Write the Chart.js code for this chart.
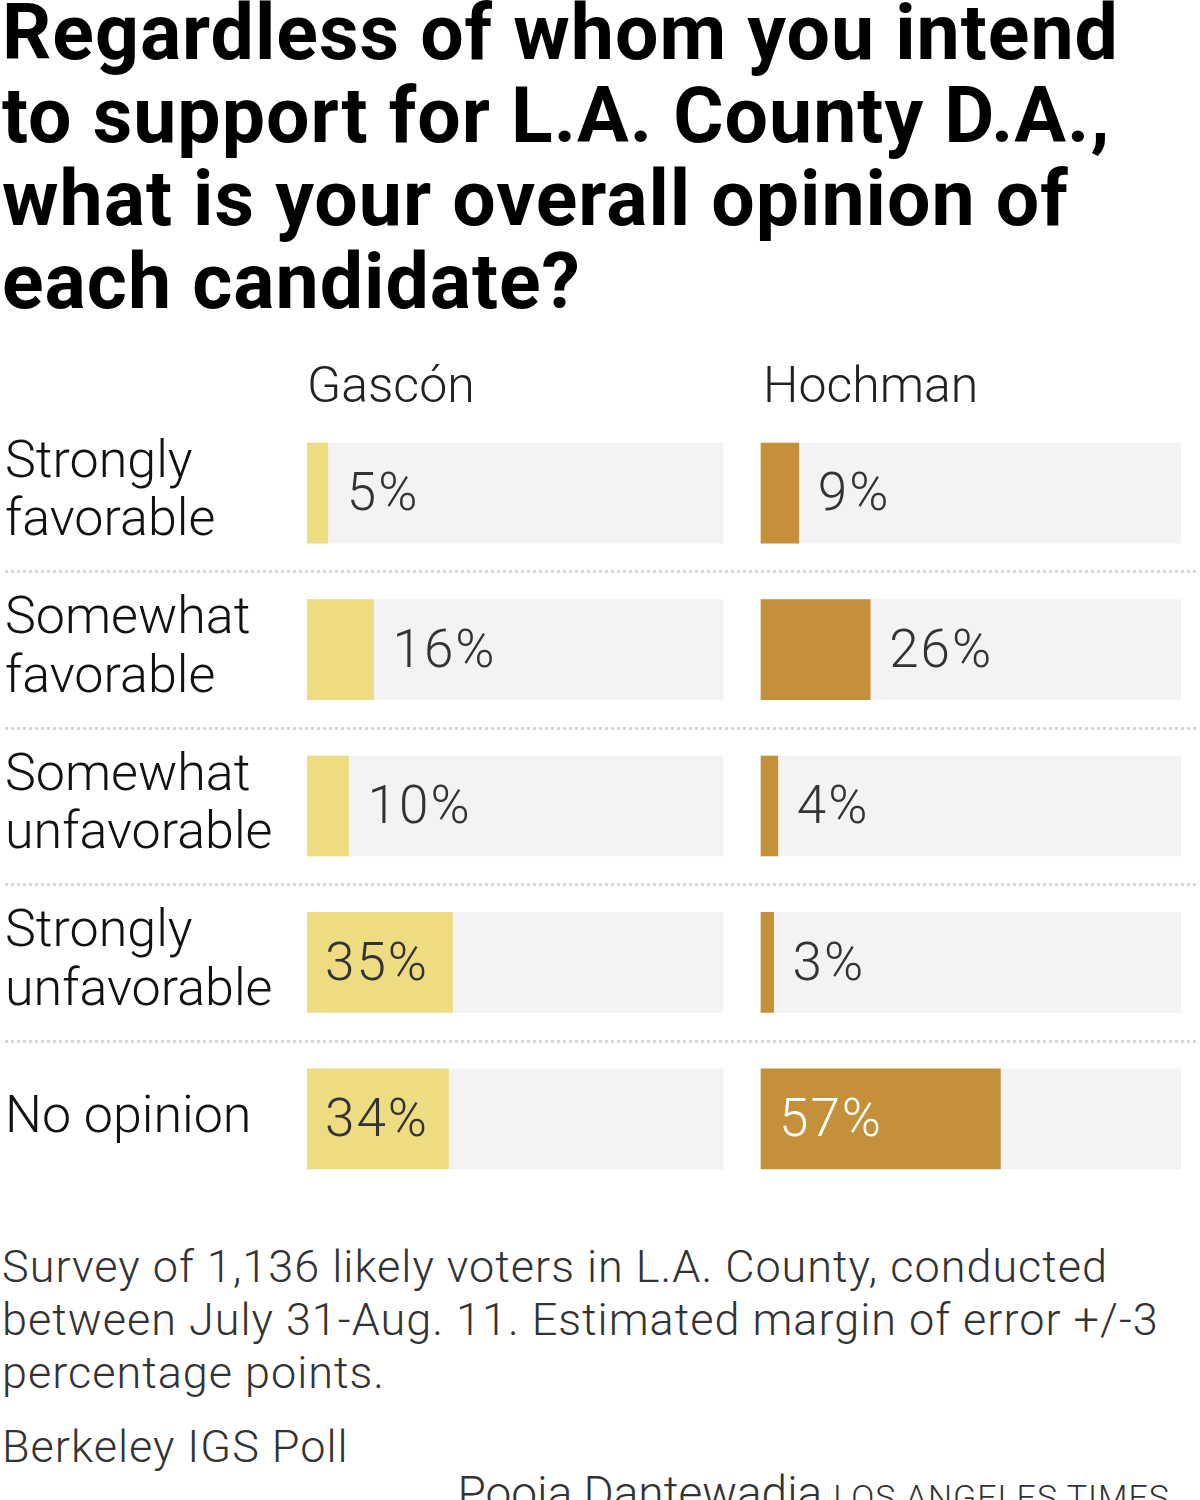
<!DOCTYPE html>
<html>
<head>
<meta charset="utf-8">
<script src="https://cdn.jsdelivr.net/npm/chart.js@4.4.1/dist/chart.umd.min.js"></script>
<style>
  html, body { margin: 0; padding: 0; background: #fff; width: 1200px; height: 1500px; overflow: hidden; }
  body { position: relative; font-family: Roboto, "Noto Sans", sans-serif; color: #111; }
  #title { position: absolute; left: 2px; top: -8px; width: 1195px; font: 700 77px/83px Roboto, sans-serif; letter-spacing: 1px; color: #000; margin: 0; }
  #wrap { position: absolute; left: 0; top: 340px; width: 1200px; height: 880px; }
  #note { position: absolute; left: 2px; top: 1240px; width: 1195px; font: 300 45px/53px Roboto, sans-serif; letter-spacing: 1px; color: #333; }
  #source { position: absolute; left: 2px; top: 1420px; font: 300 45px/53px Roboto, sans-serif; letter-spacing: 1px; color: #333; }
  #credit { position: absolute; right: 30px; top: 1468px; font: 300 46px/50px Roboto, sans-serif; color: #333; white-space: nowrap; }
  #credit span { font-size: 34px; letter-spacing: 1px; }
</style>
</head>
<body>
<h1 id="title">Regardless of whom you intend to support for L.A. County D.A., what is your overall opinion of each candidate?</h1>
<div id="wrap"><canvas id="c" width="1200" height="880"></canvas></div>
<div id="note">Survey of 1,136 likely voters in L.A. County, conducted between July 31-Aug. 11. Estimated margin of error +/-3 percentage points.</div>
<div id="source">Berkeley IGS Poll</div>
<div id="credit">Pooja Dantewadia <span>LOS ANGELES TIMES</span></div>
<script>
const categories = [["Strongly", "favorable"], ["Somewhat", "favorable"], ["Somewhat", "unfavorable"], ["Strongly", "unfavorable"], ["No opinion"]];
const candidates = ["Gascón", "Hochman"];
const gasconValues = [5, 16, 10, 35, 34];
const hochmanValues = [9, 26, 4, 3, 57];
const trackValues = [100, 100, 100, 100, 100];

const FONT = 'Roboto, sans-serif';

const labelsPlugin = {
  id: 'labels',
  afterDatasetsDraw(chart) {
    const ctx = chart.ctx;
    ctx.save();
    // column headers
    ctx.font = '300 50px ' + FONT;
    ctx.fillStyle = '#222';
    ctx.textAlign = 'left';
    ctx.textBaseline = 'alphabetic';
    ctx.fillText(candidates[0], chart.scales.xG.getPixelForValue(0), 62);
    ctx.fillText(candidates[1], chart.scales.xH.getPixelForValue(0) + 2, 62);
    // value labels
    ctx.font = '300 53px ' + FONT;
    if ('letterSpacing' in ctx) ctx.letterSpacing = '2px';
    ctx.textBaseline = 'middle';
    [1, 3].forEach(di => {
      const meta = chart.getDatasetMeta(di);
      const ds = chart.data.datasets[di];
      meta.data.forEach((bar, i) => {
        const v = ds.data[i];
        const inside = v >= 30;
        const x = inside ? bar.base + 18 : bar.x + 19;
        ctx.fillStyle = (inside && di === 3) ? '#fff' : '#333';
        ctx.fillText(v + '%', x, bar.y + 4);
      });
    });
    ctx.restore();
  },
  beforeDatasetsDraw(chart) {
    const ctx = chart.ctx;
    const y = chart.scales.y;
    ctx.save();
    ctx.strokeStyle = '#d6d6d6';
    ctx.lineWidth = 3;
    ctx.setLineDash([3, 3]);
    for (let i = 0; i < categories.length - 1; i++) {
      const yy = Math.round((y.getPixelForValue(i) + y.getPixelForValue(i + 1)) / 2) + 0.5;
      ctx.beginPath();
      ctx.moveTo(5, yy);
      ctx.lineTo(1196, yy);
      ctx.stroke();
    }
    ctx.restore();
  }
};

new Chart(document.getElementById('c'), {
  type: 'bar',
  data: {
    labels: categories,
    datasets: [
      { label: 'Gascón track', data: trackValues, xAxisID: 'xG', backgroundColor: '#f3f3f3', order: 2 },
      { label: 'Gascón', data: gasconValues, xAxisID: 'xG', backgroundColor: '#eedc82', order: 0 },
      { label: 'Hochman track', data: trackValues, xAxisID: 'xH', backgroundColor: '#f3f3f3', order: 2 },
      { label: 'Hochman', data: hochmanValues, xAxisID: 'xH', backgroundColor: '#c4903a', order: 0 }
    ]
  },
  options: {
    indexAxis: 'y',
    responsive: false,
    animation: false,
    events: [],
    layout: { padding: { left: 5, right: 19, top: 75, bottom: 23 } },
    datasets: { bar: { grouped: false, barThickness: 100, borderWidth: 0 } },
    plugins: { legend: { display: false }, tooltip: { enabled: false }, title: { display: false } },
    scales: {
      y: {
        type: 'category',
        offset: true,
        grid: { display: false },
        border: { display: false },
        afterFit(scale) { scale.width = 302; scale.paddingTop = 0; scale.paddingBottom = 0; },
        ticks: {
          crossAlign: 'far',
          padding: 0,
          color: '#111',
          font: { family: FONT, size: 52, weight: 300, lineHeight: 1.12 }
        }
      },
      xG: { type: 'linear', display: false, min: 0, max: 210.1 },
      xH: { type: 'linear', display: false, min: -108.1, max: 100 }
    }
  },
  plugins: [labelsPlugin]
});
</script>
</body>
</html>
